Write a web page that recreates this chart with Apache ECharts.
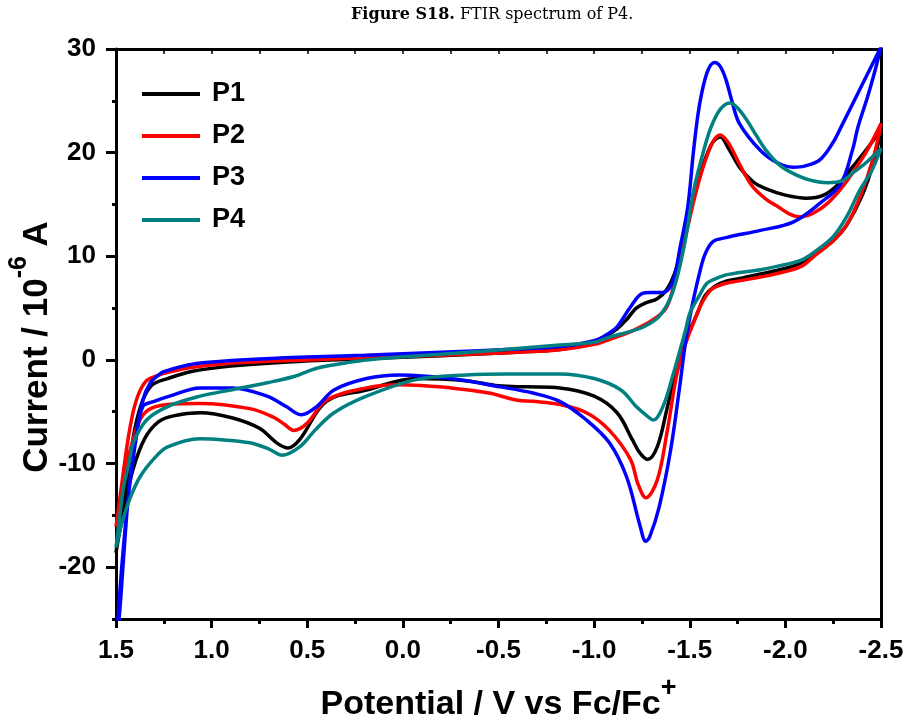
<!DOCTYPE html>
<html><head><meta charset="utf-8">
<script src="https://cdn.jsdelivr.net/npm/echarts@6/dist/echarts.min.js"></script>
<style>html,body{margin:0;padding:0;background:#fff}#c{width:909px;height:720px}</style>
</head><body><div id="c"></div>
<script>
const seriesNames = ['P1', 'P2', 'P3', 'P4'];
const seriesColors = ['#000000', '#ff0000', '#0000ff', '#008080'];

// P1 (black): forward scan then reverse scan
const p1 = [[1.5,-18.6],[1.47,-14.5],[1.43,-10.0],[1.40,-6.5],[1.36,-3.9],[1.31,-2.4],[1.23,-1.8],[1.10,-1.1],[0.90,-0.6],[0.60,-0.2],[0.20,0.1],[-0.20,0.4],[-0.60,0.75],[-0.82,1.0],[-0.95,1.5],[-1.05,2.2],[-1.12,3.0],[-1.17,3.9],[-1.22,5.0],[-1.27,5.5],[-1.33,5.9],[-1.38,6.8],[-1.42,8.3],[-1.47,11.5],[-1.52,15.5],[-1.57,18.8],[-1.62,21.0],[-1.66,21.5],[-1.70,20.5],[-1.76,18.6],[-1.83,17.2],[-1.90,16.5],[-2.00,15.9],[-2.11,15.6],[-2.20,15.9],[-2.28,17.0],[-2.35,18.6],[-2.42,20.2],[-2.50,22.2],
  [-2.46,19.0],[-2.40,15.8],[-2.32,13.0],[-2.25,11.5],[-2.15,10.1],[-2.08,9.3],[-1.95,8.6],[-1.87,8.3],[-1.75,7.8],[-1.69,7.6],[-1.63,7.1],[-1.58,6.2],[-1.54,4.5],[-1.50,2.8],[-1.46,0.8],[-1.43,-0.8],[-1.38,-4.8],[-1.33,-8.4],[-1.28,-9.6],[-1.24,-9.0],[-1.20,-7.7],[-1.12,-5.1],[-1.00,-3.5],[-0.82,-2.7],[-0.65,-2.6],[-0.50,-2.5],[-0.33,-2.0],[-0.07,-1.8],[0.19,-2.9],[0.40,-4.0],[0.54,-7.7],[0.60,-8.5],[0.66,-8.0],[0.75,-6.6],[0.89,-5.6],[1.06,-5.1],[1.20,-5.4],[1.28,-6.0],[1.35,-7.6],[1.41,-10.5],[1.46,-14.5],[1.50,-18.6]];

// P2 (red)
const p2 = [[1.5,-16.1],[1.47,-12.0],[1.44,-8.0],[1.41,-5.0],[1.38,-3.2],[1.34,-2.0],[1.28,-1.5],[1.23,-1.2],[1.10,-0.7],[0.89,-0.3],[0.50,0.0],[0.19,0.2],[-0.20,0.45],[-0.55,0.7],[-0.82,0.97],[-1.00,1.5],[-1.10,2.1],[-1.20,2.8],[-1.31,3.9],[-1.38,5.1],[-1.43,8.3],[-1.49,12.9],[-1.53,16.0],[-1.57,18.6],[-1.62,21.0],[-1.66,21.7],[-1.70,21.0],[-1.73,20.0],[-1.78,18.2],[-1.83,16.7],[-1.90,15.5],[-1.96,14.8],[-2.02,14.1],[-2.08,13.8],[-2.15,14.2],[-2.22,15.1],[-2.29,16.5],[-2.35,18.0],[-2.43,20.3],[-2.50,22.8],
  [-2.46,19.5],[-2.39,15.7],[-2.32,13.0],[-2.25,11.5],[-2.15,10.0],[-2.08,9.0],[-1.95,8.3],[-1.87,8.0],[-1.75,7.6],[-1.69,7.4],[-1.62,6.9],[-1.59,6.3],[-1.55,5.0],[-1.52,3.6],[-1.49,2.2],[-1.46,0.5],[-1.43,-1.6],[-1.38,-7.1],[-1.33,-11.6],[-1.27,-13.3],[-1.23,-12.0],[-1.19,-9.6],[-1.08,-6.8],[-0.96,-5.1],[-0.82,-4.3],[-0.68,-4.0],[-0.60,-3.9],[-0.45,-3.2],[-0.25,-2.7],[0.02,-2.4],[0.19,-2.7],[0.40,-3.9],[0.50,-6.1],[0.57,-6.8],[0.62,-6.2],[0.68,-5.5],[0.80,-4.7],[1.06,-4.2],[1.23,-4.3],[1.33,-4.8],[1.38,-6.0],[1.43,-9.0],[1.47,-12.5],[1.50,-16.1]];

// P3 (blue)
const p3 = [[1.5,-27.0],[1.484,-25.0],[1.46,-19.0],[1.437,-13.5],[1.41,-9.5],[1.39,-7.0],[1.36,-3.9],[1.32,-2.2],[1.28,-1.5],[1.254,-1.16],[1.15,-0.6],[1.061,-0.29],[0.80,0.05],[0.538,0.26],[0.20,0.45],[-0.20,0.75],[-0.60,1.05],[-0.82,1.29],[-1.01,1.9],[-1.08,2.6],[-1.12,3.2],[-1.19,5.1],[-1.25,6.4],[-1.30,6.5],[-1.36,6.5],[-1.41,7.5],[-1.45,10.9],[-1.49,14.8],[-1.52,20.2],[-1.55,24.5],[-1.59,27.7],[-1.63,28.7],[-1.66,28.3],[-1.69,27.0],[-1.72,25.0],[-1.76,22.8],[-1.87,20.2],[-1.96,19.0],[-2.04,18.6],[-2.10,18.7],[-2.18,19.3],[-2.25,21.0],[-2.30,22.8],[-2.40,26.5],[-2.50,30.2],
  [-2.47,28.0],[-2.43,25.4],[-2.38,22.5],[-2.35,20.2],[-2.29,17.0],[-2.18,15.1],[-2.04,13.3],[-1.87,12.5],[-1.69,11.8],[-1.62,11.4],[-1.58,10.2],[-1.55,8.3],[-1.51,5.0],[-1.48,2.0],[-1.45,-2.2],[-1.40,-8.7],[-1.34,-14.2],[-1.29,-17.1],[-1.27,-17.5],[-1.24,-16.0],[-1.17,-11.3],[-1.08,-8.0],[-0.96,-5.8],[-0.82,-4.0],[-0.68,-3.2],[-0.51,-2.6],[-0.25,-1.8],[0.02,-1.45],[0.19,-1.8],[0.36,-2.9],[0.45,-4.5],[0.53,-5.3],[0.61,-4.5],[0.71,-3.5],[0.89,-2.7],[1.06,-2.7],[1.22,-3.5],[1.30,-4.0],[1.36,-4.5],[1.40,-8.0],[1.44,-14.0],[1.47,-20.0],[1.49,-25.0],[1.50,-27.0]];

// P4 (teal)
const p4 = [[1.5,-18.1],[1.48,-15.0],[1.46,-12.2],[1.43,-9.8],[1.41,-8.0],[1.34,-5.8],[1.23,-4.5],[1.06,-3.5],[0.90,-2.9],[0.71,-2.2],[0.57,-1.6],[0.45,-0.8],[0.30,-0.3],[0.19,0.0],[-0.16,0.5],[-0.50,0.95],[-0.82,1.45],[-1.00,1.7],[-1.08,2.2],[-1.18,2.7],[-1.26,3.2],[-1.34,4.2],[-1.41,6.5],[-1.47,10.9],[-1.52,16.3],[-1.57,20.0],[-1.61,22.4],[-1.66,24.2],[-1.71,24.8],[-1.75,24.3],[-1.80,23.1],[-1.85,21.6],[-1.90,20.2],[-1.97,18.8],[-2.04,18.0],[-2.12,17.4],[-2.22,17.1],[-2.30,17.3],[-2.35,18.0],[-2.42,19.0],[-2.50,20.4],
  [-2.45,18.2],[-2.39,16.4],[-2.32,13.8],[-2.25,11.9],[-2.15,10.4],[-2.08,9.6],[-1.95,9.0],[-1.87,8.7],[-1.75,8.4],[-1.69,8.2],[-1.63,7.8],[-1.59,7.4],[-1.55,6.2],[-1.50,4.5],[-1.48,3.0],[-1.45,1.0],[-1.41,-1.6],[-1.36,-4.5],[-1.31,-5.8],[-1.27,-5.3],[-1.22,-4.5],[-1.14,-2.9],[-1.00,-1.8],[-0.82,-1.35],[-0.55,-1.35],[-0.33,-1.45],[-0.07,-1.9],[0.19,-3.5],[0.36,-5.1],[0.46,-6.8],[0.54,-8.4],[0.63,-9.2],[0.70,-8.6],[0.80,-8.0],[0.95,-7.7],[1.06,-7.6],[1.23,-8.4],[1.30,-9.5],[1.375,-11.3],[1.43,-13.5],[1.47,-15.8],[1.50,-18.1]];

const seriesData = [p1, p2, p3, p4];

const F = '"Liberation Sans", Arial, sans-serif';
const chart = echarts.init(document.getElementById('c'), null, { renderer: 'canvas' });
const axisLine = { show: true, onZero: false, lineStyle: { color: '#000', width: 3 } };

const option = {
  animation: false,
  backgroundColor: '#fff',
  title: {
    text: '{b|Figure S18.} {n|FTIR spectrum of P4.}',
    left: 346, top: 2,
    textStyle: {
      fontWeight: 'normal', fontSize: 16, fontFamily: '"DejaVu Serif", serif',
      rich: {
        b: { fontFamily: '"DejaVu Serif", serif', fontWeight: 'bold', fontSize: 16, color: '#000' },
        n: { fontFamily: '"DejaVu Serif", serif', fontWeight: 'normal', fontSize: 16, color: '#000' }
      }
    }
  },
  legend: {
    orient: 'vertical', left: 142, top: 79, padding: 0,
    itemWidth: 58, itemHeight: 4, itemGap: 12, icon: 'rect',
    textStyle: { fontFamily: F, fontWeight: 'bold', fontSize: 27, color: '#000', lineHeight: 30, padding: [0, 0, 0, 7] },
    data: seriesNames
  },
  grid: [
    { left: 116, right: 28, top: 49, bottom: 101, outerBoundsMode: 'none', containLabel: false },
    { left: 116, right: 28, top: 49, bottom: 153, outerBoundsMode: 'none', containLabel: false }
  ],
  xAxis: [
    {
      gridIndex: 0, type: 'value', min: -2.5, max: 1.5, interval: 0.5, inverse: true, position: 'bottom',
      axisLine: axisLine,
      axisTick: { show: true, length: 9, lineStyle: { color: '#000', width: 3 } },
      minorTick: { show: true, splitNumber: 2, length: 5, lineStyle: { color: '#000', width: 3 } },
      splitLine: { show: false }, minorSplitLine: { show: false },
      axisLabel: { formatter: v => v.toFixed(1), fontFamily: F, fontWeight: 'bold', fontSize: 26, color: '#000', margin: 19 },
      name: 'Potential / V vs Fc/Fc{sup|+}', nameLocation: 'middle', nameGap: 56,
      nameTextStyle: {
        fontFamily: F, fontWeight: 'bold', fontSize: 34, color: '#000', lineHeight: 60,
        rich: { sup: { fontFamily: F, fontWeight: 'bold', fontSize: 27, color: '#000', lineHeight: 16, verticalAlign: 'top' } }
      }
    },
    {
      gridIndex: 0, type: 'value', min: -2.5, max: 1.5, interval: 0.25, inverse: true, position: 'top',
      axisLine: axisLine,
      axisTick: { show: true, inside: true, length: 5, lineStyle: { color: '#000', width: 1.5 } },
      axisLabel: { show: false }, splitLine: { show: false }
    },
    { gridIndex: 1, type: 'value', min: -2.5, max: 1.5, inverse: true, show: false }
  ],
  yAxis: [
    {
      gridIndex: 0, type: 'value', min: -25, max: 30, interval: 5, position: 'left',
      axisLine: axisLine,
      axisTick: { show: true, length: 4, lineStyle: { color: '#000', width: 3 } },
      axisLabel: { show: false }, splitLine: { show: false },
      name: 'Current / 10{sup|-6} A', nameLocation: 'middle', nameRotate: 90, nameGap: 49,
      nameTextStyle: {
        fontFamily: F, fontWeight: 'bold', fontSize: 35, color: '#000', lineHeight: 60, padding: [0, 26, 0, 0],
        rich: { sup: { fontFamily: F, fontWeight: 'bold', fontSize: 25, color: '#000', lineHeight: 16, verticalAlign: 'top' } }
      }
    },
    {
      gridIndex: 0, type: 'value', min: -25, max: 30, interval: 5, position: 'right',
      axisLine: axisLine, axisTick: { show: false }, axisLabel: { show: false }, splitLine: { show: false }
    },
    {
      gridIndex: 1, type: 'value', min: -20, max: 30, interval: 10, position: 'left',
      axisLine: { show: false, onZero: false },
      axisTick: { show: true, length: 10, lineStyle: { color: '#000', width: 3 } },
      axisLabel: { fontFamily: F, fontWeight: 'bold', fontSize: 26, color: '#000', margin: 20 },
      splitLine: { show: false }
    }
  ],
  series: seriesNames.map((n, i) => ({
    name: n, type: 'line', xAxisIndex: 0, yAxisIndex: 0,
    data: seriesData[i], showSymbol: false, smooth: 0.35, clip: true,
    lineStyle: { color: seriesColors[i], width: 3.5 },
    itemStyle: { color: seriesColors[i] }
  }))
};
chart.setOption(option);
</script></body></html>
